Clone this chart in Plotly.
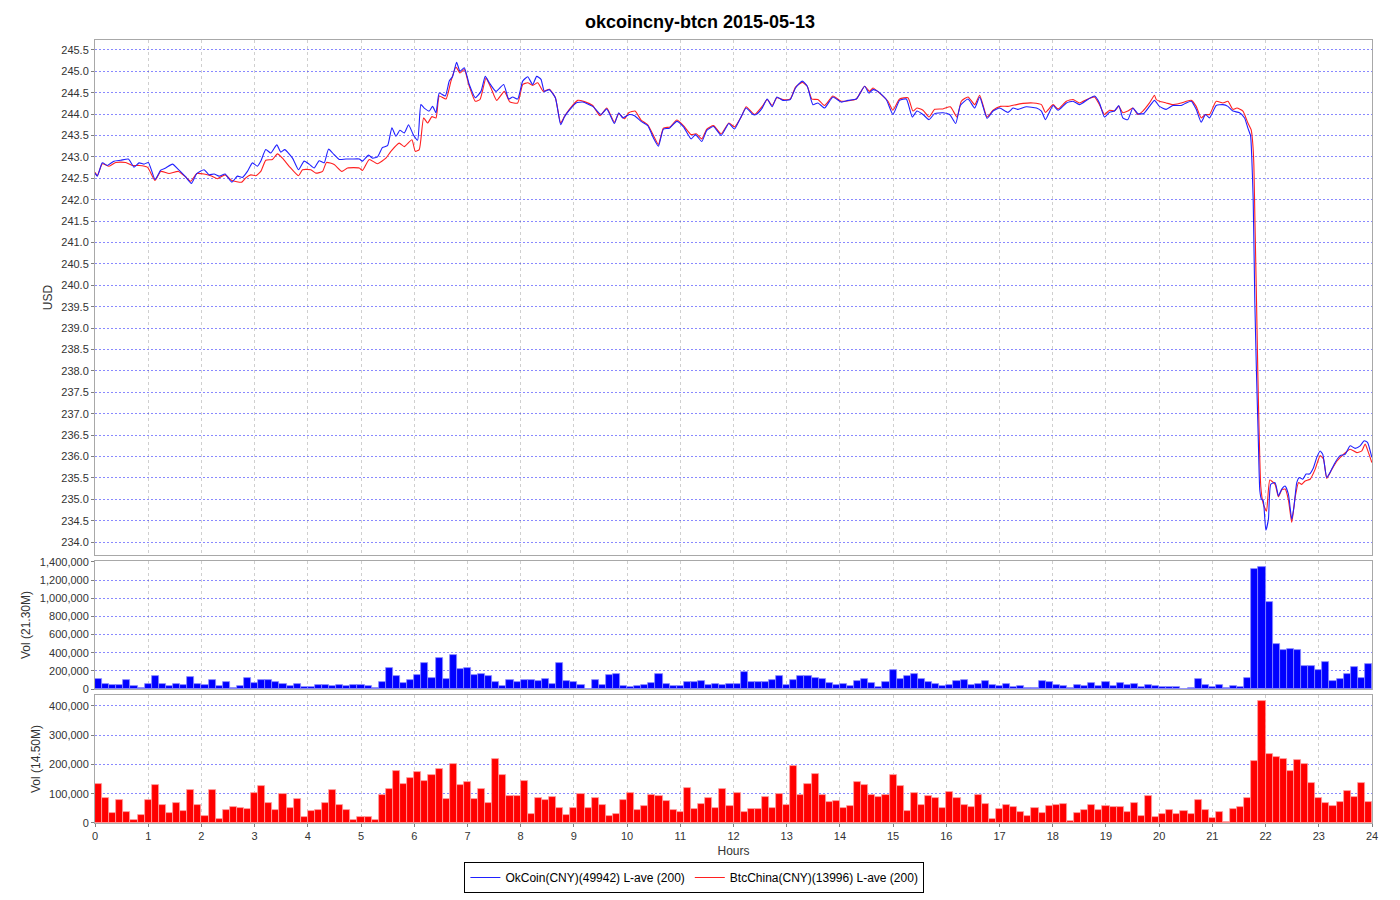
import plotly.graph_objects as go

# ---------------- data ----------------
title_text = "okcoincny-btcn 2015-05-13"
okcoin_name = "OkCoin(CNY)(49942) L-ave (200)"
btcchina_name = "BtcChina(CNY)(13996) L-ave (200)"

okcoin_hours = [0.000, 0.044, 0.138, 0.232, 0.357, 0.483, 0.627, 0.734, 0.828, 0.922, 1.003, 1.129, 1.235, 1.329,
                1.455, 1.580, 1.705, 1.812, 1.912, 2.050, 2.144, 2.238, 2.332, 2.445, 2.571, 2.677, 2.771, 2.865,
                2.959, 3.053, 3.116, 3.210, 3.304, 3.417, 3.492, 3.567, 3.712, 3.824, 3.931, 4.025, 4.119, 4.213,
                4.307, 4.389, 4.495, 4.589, 4.715, 4.840, 4.966, 5.028, 5.141, 5.216, 5.310, 5.404, 5.498, 5.580,
                5.655, 5.730, 5.812, 5.893, 5.981, 6.063, 6.125, 6.188, 6.282, 6.345, 6.408, 6.470, 6.583, 6.658,
                6.721, 6.796, 6.859, 6.940, 7.034, 7.147, 7.254, 7.335, 7.411, 7.536, 7.680, 7.774, 7.850, 7.944,
                8.038, 8.132, 8.226, 8.301, 8.382, 8.445, 8.539, 8.652, 8.752, 8.821, 8.915, 9.041, 9.166, 9.354,
                9.511, 9.618, 9.762, 9.843, 9.918, 10.044, 10.138, 10.263, 10.389, 10.495, 10.589, 10.683, 10.796,
                10.934, 11.060, 11.204, 11.285, 11.404, 11.498, 11.624, 11.768, 11.912, 12.019, 12.125, 12.238,
                12.364, 12.426, 12.539, 12.633, 12.727, 12.815, 12.928, 13.066, 13.166, 13.292, 13.386, 13.492,
                13.586, 13.712, 13.868, 14.025, 14.150, 14.307, 14.464, 14.545, 14.621, 14.715, 14.871, 14.997,
                15.122, 15.248, 15.361, 15.448, 15.561, 15.674, 15.781, 15.937, 16.063, 16.176, 16.263, 16.408,
                16.533, 16.627, 16.765, 16.878, 17.003, 17.160, 17.254, 17.348, 17.505, 17.693, 17.787, 17.862,
                18.006, 18.100, 18.257, 18.382, 18.502, 18.658, 18.784, 18.878, 18.972, 19.066, 19.160, 19.241,
                19.317, 19.411, 19.505, 19.599, 19.705, 19.818, 19.912, 20.006, 20.132, 20.257, 20.414, 20.508,
                20.602, 20.696, 20.790, 20.871, 20.947, 21.072, 21.197, 21.292, 21.386, 21.511, 21.605, 21.668,
                21.717, 21.740, 21.767, 21.798, 21.830, 21.861, 21.892, 21.923, 21.955, 22.005, 22.053, 22.097,
                22.179, 22.241, 22.304, 22.367, 22.429, 22.492, 22.536, 22.586, 22.636, 22.699, 22.762, 22.824,
                22.900, 22.962, 23.025, 23.075, 23.150, 23.213, 23.307, 23.401, 23.495, 23.589, 23.683, 23.777,
                23.853, 23.915, 23.997]
okcoin_price = [242.62, 242.55, 242.86, 242.80, 242.90, 242.92, 242.95, 242.76, 242.86, 242.83, 242.87, 242.47, 242.69,
                242.74, 242.83, 242.69, 242.53, 242.38, 242.61, 242.70, 242.58, 242.60, 242.55, 242.60, 242.41,
                242.55, 242.52, 242.66, 242.86, 242.78, 242.90, 243.17, 243.09, 243.28, 243.11, 243.17, 242.97,
                242.70, 242.90, 242.83, 242.74, 242.91, 242.86, 243.18, 243.05, 242.94, 242.95, 242.95, 242.95,
                242.90, 243.04, 242.97, 243.00, 243.22, 243.26, 243.68, 243.48, 243.62, 243.56, 243.75, 243.52,
                243.39, 244.22, 244.14, 244.07, 244.18, 244.03, 244.49, 244.42, 244.77, 244.88, 245.21, 245.00,
                245.08, 244.69, 244.38, 244.53, 244.88, 244.73, 244.53, 244.69, 244.35, 244.40, 244.35, 244.77,
                244.87, 244.69, 244.88, 244.81, 244.53, 244.57, 244.38, 243.75, 243.93, 244.09, 244.26, 244.28,
                244.18, 243.99, 244.12, 243.78, 244.03, 243.91, 243.99, 243.96, 243.83, 243.73, 243.44, 243.25,
                243.65, 243.67, 243.83, 243.70, 243.42, 243.52, 243.36, 243.62, 243.71, 243.50, 243.78, 243.65,
                243.89, 244.14, 243.99, 243.99, 244.14, 244.35, 244.17, 244.40, 244.32, 244.34, 244.61, 244.77,
                244.65, 244.22, 244.26, 244.14, 244.40, 244.28, 244.32, 244.35, 244.65, 244.49, 244.57, 244.53,
                244.34, 243.99, 244.32, 244.35, 243.93, 244.07, 243.99, 243.87, 244.01, 244.03, 243.99, 243.78,
                244.20, 244.35, 244.14, 244.40, 243.90, 244.07, 244.14, 244.04, 244.14, 244.11, 244.17, 244.14,
                244.07, 243.87, 244.20, 244.09, 244.26, 244.30, 244.22, 244.34, 244.42, 244.26, 243.93, 244.04,
                244.07, 244.20, 243.91, 243.87, 244.14, 244.01, 244.01, 244.18, 244.32, 244.18, 244.11, 244.20,
                244.20, 244.26, 244.30, 244.11, 243.81, 243.99, 243.91, 244.20, 244.22, 244.18, 244.07, 244.03,
                243.91, 243.67, 243.50, 243.00, 242.00, 239.60, 237.90, 236.50, 235.20, 235.00, 234.97, 234.28,
                234.53, 235.35, 235.39, 235.08, 235.24, 235.31, 235.12, 234.53, 234.85, 235.39, 235.51, 235.47,
                235.59, 235.59, 235.74, 235.98, 236.13, 236.05, 235.51, 235.63, 235.86, 236.02, 236.05, 236.25,
                236.19, 236.25, 236.37, 236.33, 235.98]

btcchina_hours = [0.000, 0.044, 0.138, 0.263, 0.389, 0.577, 0.702, 0.828, 0.984, 1.129, 1.235, 1.392, 1.567, 1.705,
                  1.799, 1.912, 2.050, 2.176, 2.301, 2.445, 2.571, 2.759, 2.834, 2.928, 3.022, 3.116, 3.210, 3.335,
                  3.429, 3.524, 3.649, 3.824, 3.900, 4.056, 4.151, 4.276, 4.351, 4.495, 4.639, 4.746, 4.966, 5.028,
                  5.154, 5.310, 5.467, 5.561, 5.718, 5.812, 5.956, 6.019, 6.094, 6.176, 6.251, 6.332, 6.408, 6.470,
                  6.596, 6.690, 6.784, 6.859, 6.940, 7.034, 7.147, 7.235, 7.348, 7.442, 7.549, 7.693, 7.799, 7.944,
                  8.038, 8.132, 8.226, 8.320, 8.426, 8.539, 8.652, 8.752, 8.821, 8.915, 9.072, 9.197, 9.354, 9.492,
                  9.618, 9.762, 9.843, 9.950, 10.031, 10.150, 10.263, 10.389, 10.495, 10.589, 10.683, 10.809,
                  10.934, 11.060, 11.204, 11.298, 11.404, 11.498, 11.624, 11.768, 11.912, 12.019, 12.144, 12.238,
                  12.395, 12.552, 12.633, 12.727, 12.815, 12.928, 13.066, 13.166, 13.292, 13.386, 13.473, 13.586,
                  13.712, 13.868, 14.025, 14.307, 14.464, 14.558, 14.621, 14.746, 14.903, 14.997, 15.122, 15.279,
                  15.373, 15.448, 15.561, 15.674, 15.781, 15.937, 16.075, 16.201, 16.282, 16.408, 16.533, 16.627,
                  16.765, 16.878, 17.016, 17.160, 17.317, 17.442, 17.630, 17.787, 17.862, 18.006, 18.100, 18.257,
                  18.382, 18.502, 18.658, 18.784, 18.878, 18.972, 19.066, 19.160, 19.241, 19.317, 19.411, 19.505,
                  19.599, 19.693, 19.818, 19.912, 19.944, 20.006, 20.132, 20.257, 20.414, 20.602, 20.696, 20.790,
                  20.871, 20.947, 21.072, 21.197, 21.292, 21.386, 21.461, 21.574, 21.668, 21.730, 21.760, 21.780,
                  21.800, 21.830, 21.855, 21.880, 21.910, 21.955, 22.017, 22.080, 22.179, 22.241, 22.304, 22.367,
                  22.429, 22.492, 22.555, 22.618, 22.680, 22.743, 22.837, 22.931, 23.025, 23.088, 23.150, 23.245,
                  23.339, 23.464, 23.589, 23.715, 23.809, 23.871, 23.934, 23.997]
btcchina_price = [242.64, 242.56, 242.84, 242.78, 242.87, 242.87, 242.80, 242.80, 242.76, 242.45, 242.66, 242.61,
                  242.66, 242.53, 242.43, 242.61, 242.60, 242.56, 242.49, 242.58, 242.45, 242.41, 242.51, 242.58,
                  242.56, 242.66, 242.92, 242.94, 243.07, 242.97, 242.78, 242.56, 242.70, 242.70, 242.62, 242.66,
                  242.87, 242.82, 242.66, 242.74, 242.74, 242.68, 242.94, 242.84, 242.97, 243.13, 243.32, 243.24,
                  243.40, 243.13, 243.17, 243.91, 243.79, 243.94, 243.91, 244.42, 244.35, 244.77, 245.10, 244.96,
                  245.04, 244.65, 244.30, 244.34, 244.84, 244.61, 244.32, 244.53, 244.28, 244.26, 244.69, 244.73,
                  244.67, 244.73, 244.53, 244.58, 244.38, 243.79, 243.94, 244.11, 244.32, 244.29, 244.20, 243.96,
                  244.14, 243.81, 244.01, 243.89, 244.03, 244.07, 243.86, 243.75, 243.50, 243.29, 243.67, 243.70,
                  243.86, 243.73, 243.52, 243.54, 243.42, 243.65, 243.73, 243.54, 243.79, 243.70, 243.93, 244.17,
                  243.99, 244.20, 244.34, 244.20, 244.38, 244.34, 244.35, 244.63, 244.74, 244.65, 244.35, 244.34,
                  244.20, 244.42, 244.30, 244.35, 244.65, 244.53, 244.61, 244.49, 244.30, 244.09, 244.35, 244.38,
                  244.07, 244.14, 244.09, 243.93, 244.11, 244.12, 244.17, 243.93, 244.30, 244.40, 244.22, 244.44,
                  243.93, 244.09, 244.18, 244.18, 244.22, 244.25, 244.26, 244.22, 244.04, 244.22, 244.12, 244.30,
                  244.34, 244.26, 244.35, 244.40, 244.22, 243.99, 244.09, 244.07, 244.18, 244.03, 244.07, 244.14,
                  243.99, 244.07, 244.26, 244.44, 244.34, 244.30, 244.26, 244.22, 244.26, 244.32, 244.18, 243.91,
                  243.99, 243.99, 244.30, 244.26, 244.30, 244.11, 244.14, 244.07, 243.79, 243.63, 243.30, 242.80,
                  241.50, 239.60, 237.90, 236.50, 235.30, 234.90, 234.72, 235.45, 235.35, 235.06, 235.22, 235.24,
                  234.99, 234.46, 235.04, 235.39, 235.35, 235.43, 235.47, 235.70, 236.02, 235.94, 235.49, 235.70,
                  235.89, 236.05, 236.17, 236.09, 236.13, 236.29, 236.09, 235.86]

bin_minutes = 8  # volume bins (180 per day)
okcoin_volume_k = [111, 59, 41, 41, 100, 30, 15, 52, 148, 55,
                   30, 59, 48, 137, 55, 41, 96, 33, 74, 15,
                   37, 118, 70, 104, 104, 78, 55, 37, 59, 22,
                   18, 44, 44, 37, 41, 37, 44, 41, 30, 15,
                   81, 229, 144, 67, 96, 155, 292, 126, 344, 111,
                   370, 222, 233, 159, 166, 140, 78, 30, 100, 74,
                   104, 96, 85, 107, 59, 289, 89, 78, 44, 4,
                   96, 48, 155, 170, 30, 26, 37, 44, 70, 166,
                   55, 30, 30, 78, 81, 89, 48, 59, 44, 55,
                   55, 185, 74, 74, 81, 96, 144, 44, 100, 144,
                   140, 118, 115, 67, 41, 59, 30, 89, 115, 63,
                   22, 78, 207, 115, 140, 170, 107, 80, 55, 37,
                   44, 89, 100, 41, 55, 89, 44, 37, 59, 22,
                   30, 11, 7, 92, 78, 41, 37, 15, 44, 37,
                   67, 37, 81, 33, 70, 41, 55, 26, 44, 37,
                   22, 22, 18, 4, 7, 115, 44, 18, 44, 11,
                   37, 22, 126, 1321, 1343, 958, 496, 429, 444, 433,
                   252, 259, 215, 303, 92, 115, 170, 248, 118, 278]
btcchina_volume_k = [134, 85, 34, 77, 38, 10, 27, 79, 131, 62,
                     33, 70, 40, 113, 63, 24, 113, 15, 46, 54,
                     50, 48, 101, 128, 67, 44, 98, 50, 81, 19,
                     41, 44, 68, 113, 62, 46, 9, 22, 22, 10,
                     96, 115, 179, 134, 154, 174, 145, 163, 185, 81,
                     202, 130, 141, 82, 117, 70, 217, 165, 91, 93,
                     144, 32, 84, 79, 89, 50, 29, 50, 100, 50,
                     85, 60, 25, 30, 80, 101, 44, 58, 97, 93,
                     76, 44, 36, 120, 48, 65, 84, 51, 116, 58,
                     104, 39, 49, 47, 89, 52, 100, 63, 196, 97,
                     134, 166, 97, 73, 75, 52, 57, 141, 130, 97,
                     88, 97, 163, 127, 41, 101, 60, 93, 87, 51,
                     106, 87, 60, 55, 96, 65, 13, 47, 63, 54,
                     38, 25, 50, 34, 59, 60, 65, 6, 33, 44,
                     62, 44, 58, 56, 54, 36, 68, 24, 91, 19,
                     30, 46, 31, 40, 31, 79, 46, 17, 39, 2,
                     49, 55, 85, 213, 418, 236, 226, 219, 177, 214,
                     200, 137, 85, 68, 58, 72, 109, 90, 137, 71]

# ---------------- derived ----------------
bin_h = bin_minutes / 60.0
vol_x = [(i + 0.5) * bin_h for i in range(len(okcoin_volume_k))]
okcoin_volume = [v * 1000 for v in okcoin_volume_k]
btcchina_volume = [v * 1000 for v in btcchina_volume_k]

FONT = "Liberation Sans, Arial, sans-serif"
GRID_H = "rgba(40,40,255,0.55)"
GRID_V = "#cfcfcf"
BORDER = "#a8a8a8"

fig = go.Figure()

fig.add_trace(go.Scatter(x=btcchina_hours, y=btcchina_price, mode="lines", name=btcchina_name,
                         line=dict(color="#ff2020", width=1.1, shape="spline", smoothing=0.5),
                         xaxis="x", yaxis="y", legendrank=2))
fig.add_trace(go.Scatter(x=okcoin_hours, y=okcoin_price, mode="lines", name=okcoin_name,
                         line=dict(color="#2020ff", width=1.1, shape="spline", smoothing=0.5),
                         xaxis="x", yaxis="y", legendrank=1))

fig.add_trace(go.Bar(x=vol_x, y=okcoin_volume, width=bin_h, xaxis="x2", yaxis="y2", showlegend=False,
                     marker=dict(color="#0000ff", line=dict(color="#8c8cff", width=0.8))))
fig.add_trace(go.Bar(x=vol_x, y=btcchina_volume, width=bin_h, xaxis="x3", yaxis="y3", showlegend=False,
                     marker=dict(color="#ff0000", line=dict(color="#ffa0a0", width=0.8))))

xcommon = dict(range=[0, 24], dtick=1, tick0=0, showgrid=True, gridcolor=GRID_V, griddash="3px,3px",
               gridwidth=1, showline=True, linecolor=BORDER, linewidth=1, mirror=True, zeroline=False,
               automargin=False)

ycommon = dict(showgrid=True, gridcolor=GRID_H, griddash="2px,2px", gridwidth=1, showline=True,
               linecolor=BORDER, linewidth=1, mirror=True, zeroline=False, ticks="outside", ticklen=3,
               tickcolor="#808080", tickfont=dict(family=FONT, size=11, color="#333333"),
               automargin=False)

fig.update_layout(
    width=1400, height=900,
    margin=dict(l=95, r=28, t=40, b=77, autoexpand=False),
    paper_bgcolor="white", plot_bgcolor="white",
    font=dict(family=FONT, size=11, color="#333333"),
    title=dict(text="<b>" + title_text + "</b>", x=0.5, xref="container", xanchor="center",
               y=1 - 22 / 900, yanchor="middle", font=dict(family=FONT, size=18, color="black")),
    bargap=0,
    showlegend=True,
    legend=dict(orientation="h", xref="container", yref="container", x=0.496, xanchor="center",
                y=1 - 877.5 / 900, yanchor="middle", bordercolor="black", borderwidth=1,
                font=dict(family=FONT, size=12, color="black"), itemwidth=30,
                tracegroupgap=0, traceorder="normal"),
    xaxis=dict(**xcommon, anchor="y", showticklabels=False, ticks=""),
    xaxis2=dict(**xcommon, anchor="y2", matches="x", showticklabels=False, ticks=""),
    xaxis3=dict(**xcommon, anchor="y3", matches="x", showticklabels=True, ticks="outside", ticklen=3,
                tickcolor="#808080", tickfont=dict(family=FONT, size=11, color="#333333"),
                title=dict(text="Hours", font=dict(family=FONT, size=12, color="#333333"), standoff=5)),
    yaxis=dict(**ycommon, domain=[0.3423, 1.0], range=[233.70, 245.73], dtick=0.5, tick0=234.0,
               tickformat=".1f",
               title=dict(text="USD", font=dict(family=FONT, size=12, color="#333333"), standoff=6)),
    yaxis2=dict(**ycommon, domain=[0.1711, 0.3346], range=[0, 1410000], dtick=200000, tickformat=",d",
                title=dict(text="Vol (21.30M)", font=dict(family=FONT, size=12, color="#333333"), standoff=6)),
    yaxis3=dict(**ycommon, domain=[0.0, 0.1635], range=[0, 437000], dtick=100000, tickformat=",d",
                title=dict(text="Vol (14.50M)", font=dict(family=FONT, size=12, color="#333333"), standoff=5)),
)

fig.write_html("out.html", config={"displayModeBar": False},
               post_script="document.body.style.margin='0px';")
